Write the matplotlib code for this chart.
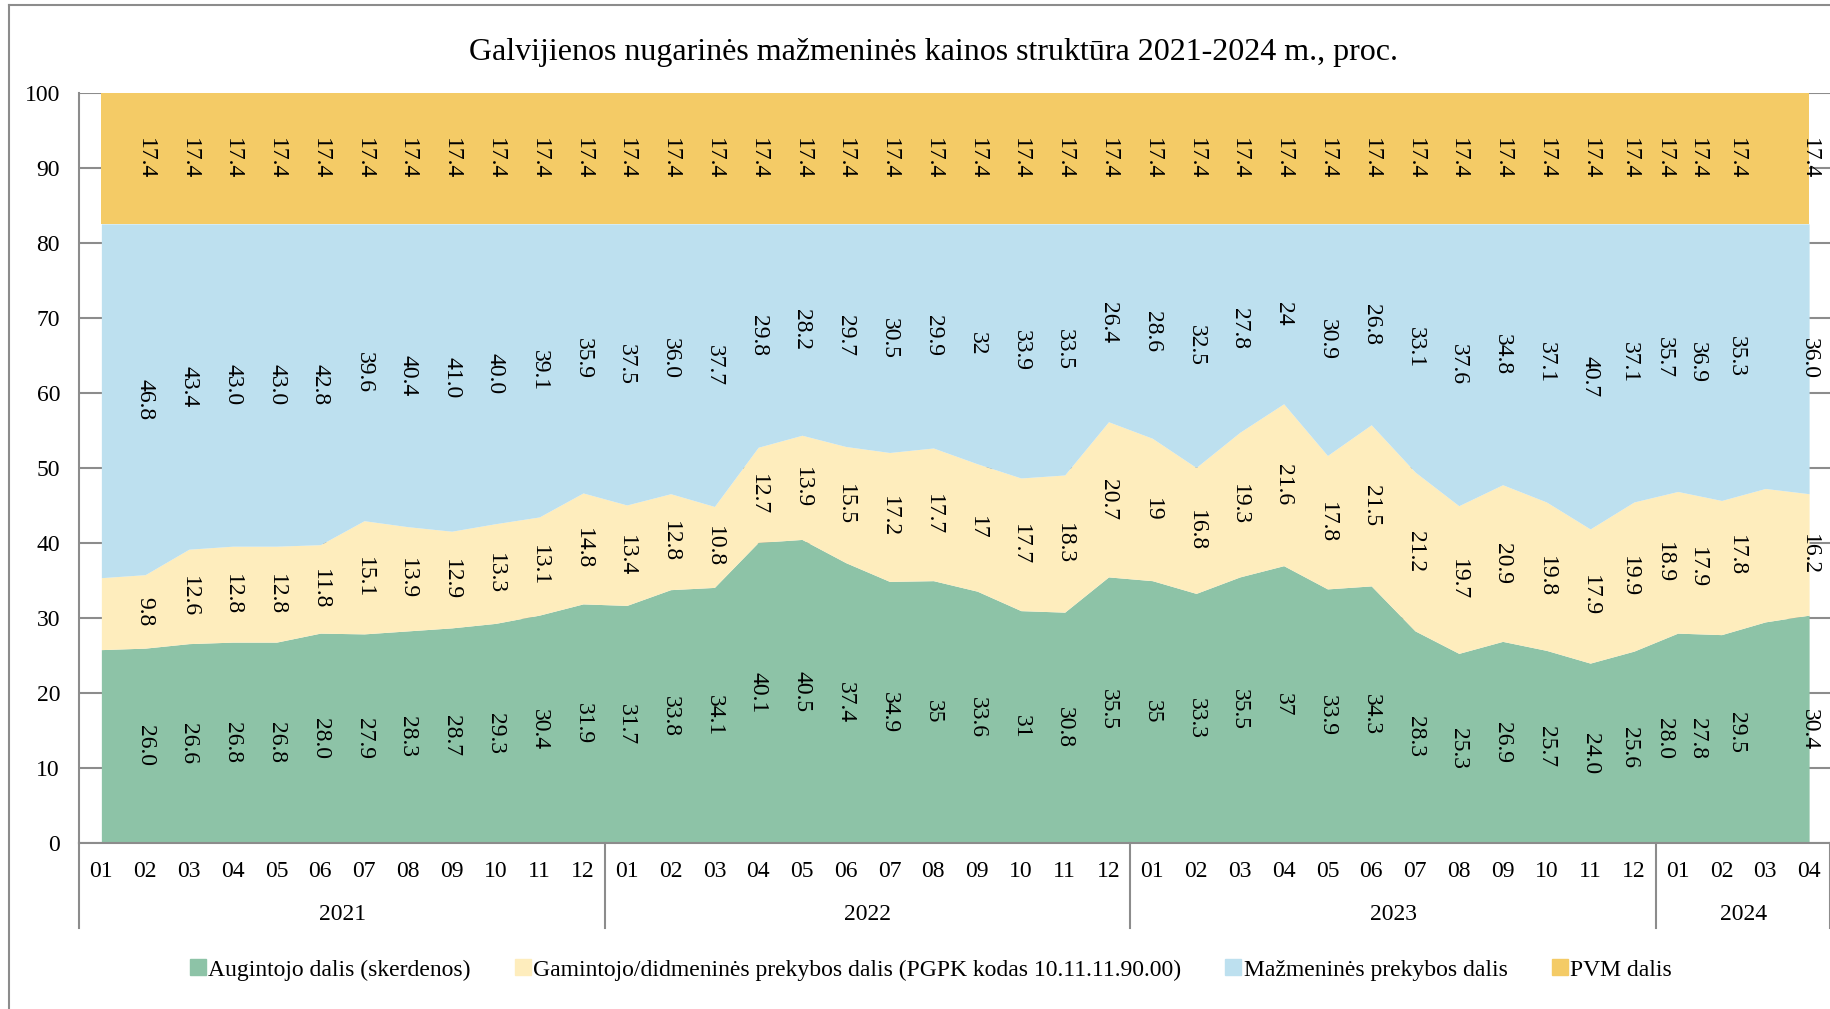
import numpy as np
import matplotlib
matplotlib.use("Agg")
import matplotlib.pyplot as plt
from matplotlib.lines import Line2D

plt.rcParams["font.family"] = ["Liberation Serif", "DejaVu Serif"]

# months 2021-01 .. 2024-04
years = ["2021", "2022", "2023", "2024"]
months_per_year = [12, 12, 12, 4]
month_labels = ["01", "02", "03", "04", "05", "06", "07", "08", "09", "10", "11", "12"] * 3 + ["01", "02", "03", "04"]

# shares as shown in the data labels (first month is not labelled)
augintojo = ["25.8", "26.0", "26.6", "26.8", "26.8", "28.0", "27.9", "28.3", "28.7", "29.3", "30.4", "31.9",
             "31.7", "33.8", "34.1", "40.1", "40.5", "37.4", "34.9", "35", "33.6", "31", "30.8", "35.5",
             "35", "33.3", "35.5", "37", "33.9", "34.3", "28.3", "25.3", "26.9", "25.7", "24.0", "25.6",
             "28.0", "27.8", "29.5", "30.4"]
gamintojo = ["9.6", "9.8", "12.6", "12.8", "12.8", "11.8", "15.1", "13.9", "12.9", "13.3", "13.1", "14.8",
             "13.4", "12.8", "10.8", "12.7", "13.9", "15.5", "17.2", "17.7", "17", "17.7", "18.3", "20.7",
             "19", "16.8", "19.3", "21.6", "17.8", "21.5", "21.2", "19.7", "20.9", "19.8", "17.9", "19.9",
             "18.9", "17.9", "17.8", "16.2"]
mazmenine = ["47.2", "46.8", "43.4", "43.0", "43.0", "42.8", "39.6", "40.4", "41.0", "40.0", "39.1", "35.9",
             "37.5", "36.0", "37.7", "29.8", "28.2", "29.7", "30.5", "29.9", "32", "33.9", "33.5", "26.4",
             "28.6", "32.5", "27.8", "24", "30.9", "26.8", "33.1", "37.6", "34.8", "37.1", "40.7", "37.1",
             "35.7", "36.9", "35.3", "36.0"]
pvm = ["17.4"] * 40

series_names = ["Augintojo dalis (skerdenos)",
                "Gamintojo/didmeninės prekybos dalis (PGPK kodas 10.11.11.90.00)",
                "Mažmeninės prekybos dalis",
                "PVM dalis"]
colors = ["#8dc3a7", "#feedbd", "#bde0ef", "#f4cb66"]

grey = "#8c8c8c"
fs = 17
label_nudge = {35: -0.1, 36: -0.3, 37: -0.55, 38: -0.65}


def main():
    fig = plt.figure(figsize=(18.31, 10.09), dpi=100)
    ax = fig.add_axes([0.0434, 0.1645, 1 - 0.0434, 0.9074 - 0.1645])

    x = np.arange(len(month_labels))
    texts = [augintojo, gamintojo, mazmenine, pvm]
    vals = [np.array(t, dtype=float) for t in texts]

    bottom = np.zeros(len(x))
    for v, t, c in zip(vals, texts, colors):
        ax.fill_between(x, bottom, bottom + v, color=c, linewidth=0, zorder=1)
        mid = bottom + v / 2
        for i in range(1, len(x)):
            ax.text(x[i] + label_nudge.get(i, 0), mid[i], t[i], rotation=270,
                    ha="center", va="center", fontsize=fs, zorder=3)
        bottom = bottom + v

    ax.set_xlim(-0.5, len(x) - 0.5)
    ax.set_ylim(0, 100)
    ax.set_yticks(np.arange(0, 101, 10))
    ax.tick_params(axis="y", length=0, pad=14, labelsize=fs)
    ax.set_xticks([])
    ax.grid(axis="y", color=grey, linewidth=1.5)
    ax.set_axisbelow(True)
    for side in ["top", "right"]:
        ax.spines[side].set_visible(False)
    for side in ["left", "bottom"]:
        ax.spines[side].set_color(grey)
        ax.spines[side].set_linewidth(1.5)

    # two level category axis
    trans = ax.get_xaxis_transform()
    for i, m in enumerate(month_labels):
        ax.text(i, -0.0374, m, ha="center", va="center", fontsize=fs, transform=trans)
    start = -0.5
    ax.plot([start, start], [0, -0.1134], color=grey, lw=1.5, transform=trans, clip_on=False)
    for y, n in zip(years, months_per_year):
        end = start + n
        ax.text((start + end) / 2, -0.0947, y, ha="center", va="center", fontsize=fs, transform=trans)
        ax.plot([end - 0.02 if n == 4 else end] * 2, [0, -0.1134], color=grey, lw=1.5,
                transform=trans, clip_on=False)
        start = end

    fig.text(0.51, 0.9475, "Galvijienos nugarinės mažmeninės kainos struktūra 2021-2024 m., proc.",
             ha="center", va="center", fontsize=23)

    handles = [Line2D([], [], marker="s", linestyle="none", markersize=12, color=c) for c in colors]
    fig.legend(handles, series_names, loc="center", bbox_to_anchor=(0.508, 0.0387), ncol=4,
               frameon=False, fontsize=fs, handletextpad=0.05, columnspacing=1.8, handlelength=0.8)

    # outer chart border (cropped on the right and bottom)
    fig.add_artist(Line2D([0.0049, 0.0049], [0, 0.995], color=grey, lw=1.5))
    fig.add_artist(Line2D([0.0049, 1], [0.995, 0.995], color=grey, lw=1.5))

    fig.savefig("out.png", dpi=100)


if __name__ == "__main__":
    main()
